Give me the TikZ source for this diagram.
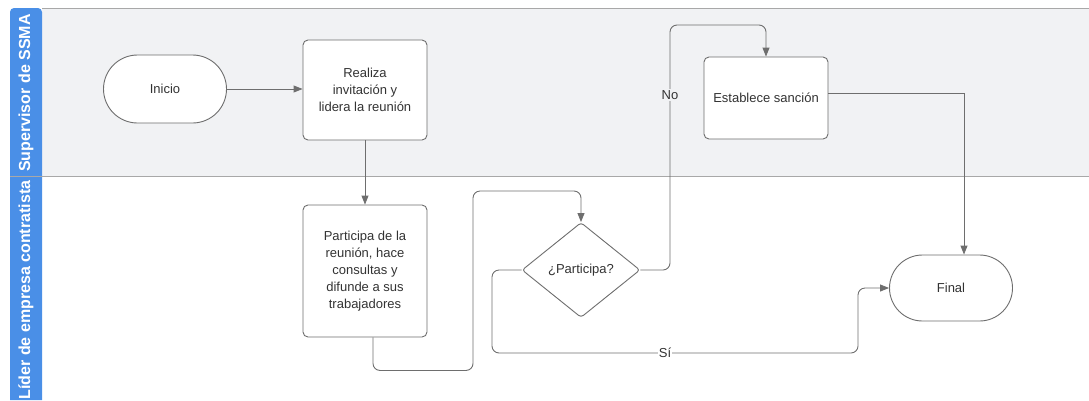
\documentclass[tikz,border=0pt]{standalone}
\usepackage{fontspec}
\setmainfont{Liberation Sans}
\usetikzlibrary{positioning,shapes.geometric,arrows.meta}
\definecolor{laneblue}{HTML}{4A8FE7}
\definecolor{lanegray}{HTML}{F1F2F4}
\definecolor{edgegray}{HTML}{6E6E6E}
\definecolor{txtgray}{HTML}{333333}
\tikzset{
  proc/.style={draw=edgegray, line width=0.9pt, fill=white, rounded corners=5pt,
    minimum width=124pt, align=center, text=txtgray, font=\fontsize{13}{17}\selectfont},
  term/.style={draw=edgegray, line width=0.9pt, fill=white, minimum width=123pt,
    text=txtgray, font=\fontsize{13}{17}\selectfont},
  flow/.style={draw=edgegray, line width=0.9pt, -{Triangle[length=9pt,width=7pt]}},
  lbl/.style={text=txtgray, font=\fontsize{13}{15}\selectfont, inner sep=1pt},
  lanetxt/.style={rotate=90, text=white, font=\fontsize{16}{18}\selectfont\bfseries}
}
\begin{document}
\begin{tikzpicture}[x=1pt,y=-1pt]
  \useasboundingbox (0,0) rectangle (1089,400);
  \fill[lanegray] (42,8) rectangle (1089,176);
  \fill[laneblue, rounded corners=4pt] (10,400) -- (10,8) -- (42,8) [sharp corners] -- (42,400) -- cycle;
  \draw[edgegray!60, line width=0.9pt] (42,8) -- (1089,8);
  \draw[edgegray!60, line width=0.9pt] (10,176) -- (1089,176);
  \node[lanetxt] (lsup) at (26,93) {Supervisor de SSMA};
  \node[lanetxt] (llid) at (26,290) {Líder de empresa contratista};

  \node[term, rounded corners=34pt, minimum height=68pt] (inicio) at (165,89) {Inicio};
  \node[proc, minimum height=100pt] (realiza) at (365,90) {Realiza\\invitación y\\lidera la reunión};
  \node[proc, minimum height=132pt] (participa) at (365,271) {Participa de la\\reunión, hace\\consultas y\\difunde a sus\\trabajadores};
  \node[diamond, draw=edgegray, line width=0.9pt, fill=white, rounded corners=3pt,
    minimum width=118pt, minimum height=95pt, inner sep=0pt, text=txtgray,
    font=\fontsize{13}{15}\selectfont] (pregunta) at (581,270) {¿Participa?};
  \node[proc, minimum height=82pt] (sancion) at (766,98) {Establece sanción};
  \node[term, rounded corners=33pt, minimum height=66pt] (final) at (951,288) {Final};

  \draw[flow] (inicio.east) -- (inicio.east -| realiza.west);
  \draw[flow] (realiza) -- (participa);
  \draw[flow, rounded corners=7pt] ([xshift=8pt]participa.south) -- ++(0,33) -| (473,191) -| (pregunta.north);
  \draw[flow, rounded corners=7pt] (pregunta.east) -| (670,25) -| (sancion.north);
  \draw[flow] ([yshift=5pt]sancion.east) -| ([xshift=13pt]final.north);
  \draw[flow, rounded corners=7pt] (pregunta.west) -| (492,353) -| (858,288) -- (final.west);
  \node[lbl, fill=lanegray] (nolbl) at (670,95) {No};
  \node[lbl, fill=white] (silbl) at (665,353) {Sí};
\end{tikzpicture}
\end{document}
